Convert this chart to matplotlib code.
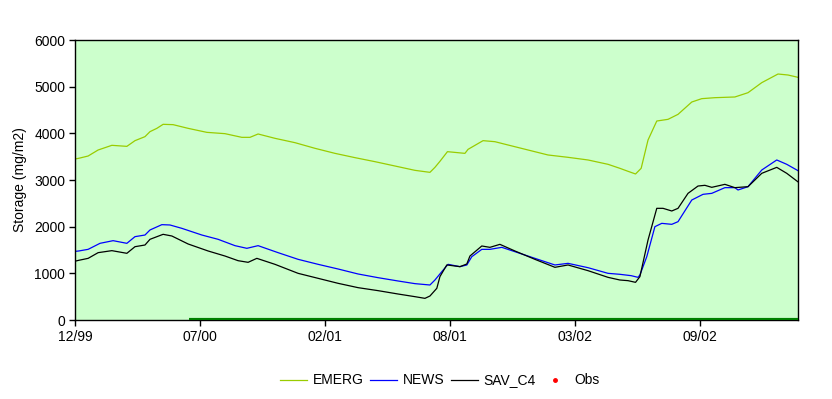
import numpy as np
import matplotlib
matplotlib.use('Agg')
import matplotlib.pyplot as plt

plt.rcParams['font.family'] = ['Liberation Sans', 'DejaVu Sans']

# days since start of record (12/99)
emerg_days = [0, 6, 21, 37, 59, 83, 96, 112, 120, 131, 141, 157, 181, 211, 240, 267, 280, 293,
              320, 352, 384, 416, 448, 480, 512, 544, 568, 576, 584, 596, 624, 629, 653, 672,
              693, 725, 757, 789, 821, 853, 872, 885, 897, 906, 917, 931, 949, 965, 987, 1003,
              1024, 1056, 1077, 1099, 1125, 1141, 1157]
emerg = [3450, 3465, 3514, 3643, 3743, 3721, 3843, 3929, 4036, 4107, 4193, 4186, 4107, 4021,
         3993, 3914, 3914, 3986, 3893, 3800, 3679, 3571, 3479, 3393, 3300, 3207, 3164, 3271,
         3400, 3607, 3571, 3657, 3843, 3821, 3750, 3643, 3536, 3486, 3429, 3336, 3250, 3186,
         3129, 3250, 3857, 4264, 4300, 4407, 4671, 4743, 4764, 4779, 4871, 5086, 5271, 5250,
         5200]

news_days = [0, 6, 21, 40, 61, 83, 96, 112, 120, 139, 152, 171, 203, 229, 256, 275, 293, 325,
             357, 389, 421, 453, 485, 517, 544, 568, 576, 587, 597, 616, 627, 635, 651, 664,
             683, 704, 736, 768, 789, 821, 853, 872, 890, 901, 904, 915, 928, 939, 955, 965,
             987, 1005, 1019, 1040, 1056, 1061, 1077, 1099, 1123, 1139, 1157]
news = [1470, 1479, 1514, 1643, 1700, 1643, 1786, 1821, 1929, 2043, 2036, 1964, 1821, 1729,
        1593, 1536, 1593, 1443, 1300, 1193, 1093, 986, 907, 836, 779, 750, 857, 1036, 1193,
        1143, 1179, 1357, 1514, 1514, 1557, 1464, 1321, 1179, 1214, 1121, 1000, 979, 950, 914,
        964, 1357, 2000, 2071, 2050, 2107, 2571, 2693, 2714, 2836, 2836, 2786, 2857, 3214,
        3429, 3336, 3200]

sav_days = [0, 6, 21, 37, 59, 83, 96, 112, 120, 141, 155, 181, 213, 240, 261, 277, 291, 320,
            357, 389, 421, 453, 485, 517, 544, 560, 568, 579, 584, 595, 616, 627, 632, 651,
            664, 680, 704, 736, 768, 789, 821, 853, 872, 885, 897, 904, 917, 931, 941, 955,
            965, 981, 997, 1008, 1019, 1040, 1056, 1077, 1099, 1123, 1139, 1157]
sav_c4 = [1260, 1279, 1321, 1443, 1486, 1429, 1571, 1607, 1729, 1836, 1800, 1629, 1479, 1371,
          1271, 1236, 1321, 1193, 1000, 893, 786, 693, 629, 557, 500, 464, 514, 679, 930,
          1180, 1143, 1200, 1371, 1586, 1557, 1621, 1479, 1300, 1129, 1179, 1057, 914, 857,
          843, 807, 929, 1714, 2393, 2393, 2336, 2393, 2714, 2871, 2886, 2843, 2907, 2836,
          2857, 3143, 3271, 3143, 2960]

# dark green bar along zero
base_days = [182, 1157]
base_vals = [0, 0]

# observations (none in this window)
obs_days = []
obs_vals = []

tick_days = [0, 200, 400, 600, 800, 1000]
tick_labels = ['12/99', '07/00', '02/01', '08/01', '03/02', '09/02']

fig = plt.figure(figsize=(8.32, 3.99), dpi=100)
ax = fig.add_axes([75 / 832, 79 / 399, 723 / 832, 280 / 399])
ax.set_facecolor('#ccffcc')

ax.plot(base_days, base_vals, '-', color='#008000', linewidth=3, solid_capstyle='butt', zorder=3)
ax.plot(emerg_days, emerg, '-', color='#99cc00', linewidth=0.9, label='EMERG')
ax.plot(news_days, news, '-', color='#0000ff', linewidth=0.9, label='NEWS')
ax.plot(sav_days, sav_c4, '-', color='black', linewidth=0.9, label='SAV_C4')
ax.plot(obs_days, obs_vals, 'o', color='red', markersize=2.5, label='Obs')

ax.set_xlim(0, 1157)
ax.set_ylim(0, 6000)
ax.set_xticks(tick_days)
ax.set_xticklabels(tick_labels)
ax.set_yticks(np.arange(0, 6001, 1000))
ax.tick_params(direction='out', length=4, width=1, labelsize=10, pad=3)
for s in ax.spines.values():
    s.set_linewidth(1)
ax.set_ylabel('Storage (mg/m2)', fontsize=10, labelpad=5)

ax.legend(loc='upper center', bbox_to_anchor=(440 / 832, 0.078), bbox_transform=fig.transFigure,
          ncol=4, frameon=False, fontsize=10, handlelength=1.95, columnspacing=0.45,
          handletextpad=0.4, borderaxespad=0)

fig.savefig('out.png', dpi=100)
